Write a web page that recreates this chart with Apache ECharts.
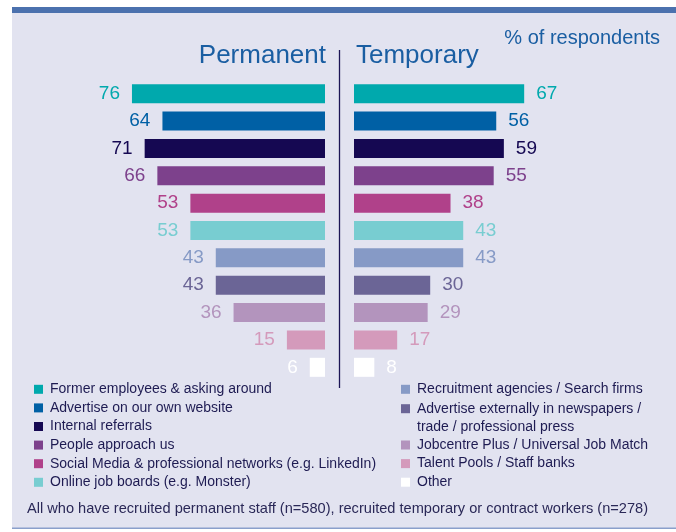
<!DOCTYPE html>
<html>
<head>
<meta charset="utf-8">
<script src="https://cdn.jsdelivr.net/npm/echarts@6/dist/echarts.min.js"></script>
<style>
html, body { margin: 0; padding: 0; background: #fff; }
#chart { width: 676px; height: 532px; }
</style>
</head>
<body>
<div id="chart"></div>
<script>
var FONT = "'Liberation Sans', Arial, sans-serif";

// data
var categories = [
	'Former employees & asking around',
	'Advertise on our own website',
	'Internal referrals',
	'People approach us',
	'Social Media & professional networks (e.g. LinkedIn)',
	'Online job boards (e.g. Monster)',
	'Recruitment agencies / Search firms',
	'Advertise externally in newspapers / trade / professional press',
	'Jobcentre Plus / Universal Job Match',
	'Talent Pools / Staff banks',
	'Other'
];
var permanent = [76, 64, 71, 66, 53, 53, 43, 43, 36, 15, 6];
var temporary = [67, 56, 59, 55, 38, 43, 43, 30, 29, 17, 8];
var colors = ['#00a9ad', '#0060a5', '#150852', '#7d418c', '#b0418a', '#78cdd1',
	'#869ac6', '#6b6596', '#b394bd', '#d49abb', '#ffffff'];
var sideTitles = ['Permanent', 'Temporary'];
var unitText = '% of respondents';
var baseText = 'All who have recruited permanent staff (n=580), recruited temporary or contract workers (n=278)';

var textColor = '#1e1b52';
var titleColor = '#1a5ea2';

// one series per category and side, so the legend can list every category
function sideSeries(values, side) {
	return categories.map(function (name, i) {
		var data = categories.map(function (c, j) { return j === i ? values[j] : '-'; });
		return {
			name: name,
			type: 'bar',
			xAxisIndex: side,
			yAxisIndex: side,
			data: data,
			barWidth: 19,
			barGap: '-100%',
			silent: true,
			itemStyle: { color: colors[i] },
			label: {
				show: true,
				position: side === 0 ? 'left' : 'right',
				distance: 12,
				color: colors[i],
				fontSize: 19,
				fontFamily: FONT
			}
		};
	});
}

function legendOpt(names, left, top, fmt) {
	var o = {
		data: names,
		orient: 'vertical',
		left: left,
		top: top,
		padding: 0,
		itemGap: 0,
		itemWidth: 9,
		itemHeight: 9,
		icon: 'rect',
		selectedMode: false,
		textStyle: { color: textColor, fontSize: 14, fontFamily: FONT, lineHeight: 18.6, padding: [0, 0, 0, 2] }
	};
	if (fmt) o.formatter = fmt;
	return o;
}

var option = {
	backgroundColor: '#ffffff',
	animation: false,
	title: [
		{ text: sideTitles[0], right: 350, top: 43, padding: 0,
			textStyle: { fontSize: 26, fontWeight: 'normal', color: titleColor, fontFamily: FONT } },
		{ text: sideTitles[1], left: 356, top: 43, padding: 0,
			textStyle: { fontSize: 26, fontWeight: 'normal', color: titleColor, fontFamily: FONT } },
		{ text: unitText, right: 16, top: 28, padding: 0,
			textStyle: { fontSize: 20, fontWeight: 'normal', color: titleColor, fontFamily: FONT } },
		{ text: baseText, left: 27, top: 501, padding: 0,
			textStyle: { fontSize: 14.6, fontWeight: 'normal', color: '#2a2857', fontFamily: FONT } }
	],
	legend: [
		legendOpt(categories.slice(0, 6), 34, 380),
		legendOpt([categories[6]], 401, 380),
		// blank first line keeps the square level with the first text line
		legendOpt([categories[7]], 401, 380.8, function (n) {
			return '\n' + n.replace(' / trade', ' /\ntrade');
		}),
		legendOpt(categories.slice(8), 401, 435.7)
	],
	grid: [
		{ left: 71, width: 254, top: 80, height: 301 },
		{ left: 354, width: 254, top: 80, height: 301 }
	],
	xAxis: [
		{ type: 'value', gridIndex: 0, min: 0, max: 100, inverse: true, show: false },
		{ type: 'value', gridIndex: 1, min: 0, max: 100, show: false }
	],
	yAxis: [
		{ type: 'category', gridIndex: 0, data: categories, inverse: true, show: false },
		{ type: 'category', gridIndex: 1, data: categories, inverse: true, show: false }
	],
	graphic: [
		{ type: 'rect', z: -10, shape: { x: 12, y: 13, width: 664, height: 515 }, style: { fill: '#e2e3f0' } },
		{ type: 'rect', z: -10, shape: { x: 12, y: 7, width: 664, height: 6 }, style: { fill: '#4b71ae' } },
		{ type: 'rect', z: -10, shape: { x: 12, y: 527.5, width: 664, height: 1.6 }, style: { fill: '#8a9fcb' } },
		{ type: 'line', z: -5, shape: { x1: 339.5, y1: 50, x2: 339.5, y2: 388 }, style: { stroke: '#1c1556', lineWidth: 1.3 } }
	],
	series: sideSeries(permanent, 0).concat(sideSeries(temporary, 1))
};

var myChart = echarts.init(document.getElementById('chart'));
myChart.setOption(option);
</script>
</body>
</html>
